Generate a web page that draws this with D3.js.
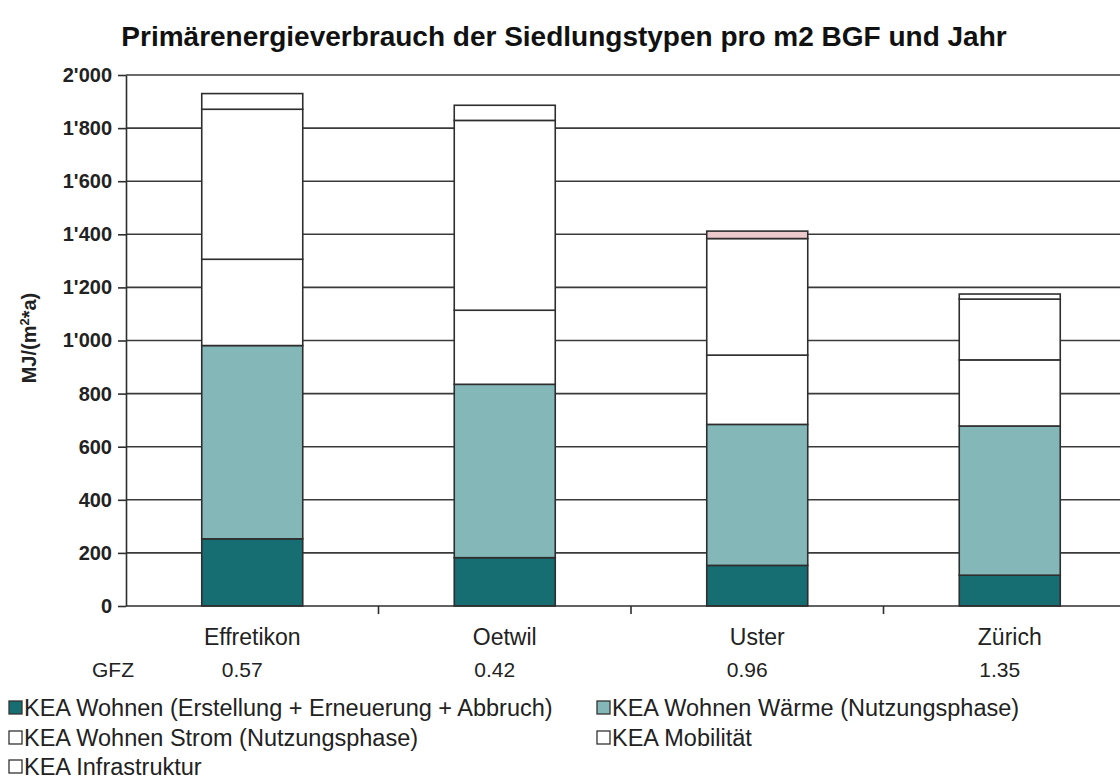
<!DOCTYPE html>
<html>
<head>
<meta charset="utf-8">
<script src="https://cdn.jsdelivr.net/npm/d3@7"></script>
<style>
  body { margin: 0; background: #fff; }
  svg { display: block; font-family: "Liberation Sans", Arial, sans-serif; }
</style>
</head>
<body>
<div id="chart"></div>
<script>
// data (MJ per m2 BGF and year)
const categories = ["Effretikon", "Oetwil", "Uster", "Zürich"];
const gfzValues = ["0.57", "0.42", "0.96", "1.35"];
const seriesNames = [
    "KEA Wohnen (Erstellung + Erneuerung + Abbruch)",
    "KEA Wohnen Wärme (Nutzungsphase)",
    "KEA Wohnen Strom (Nutzungsphase)",
    "KEA Mobilität",
    "KEA Infrastruktur"
];
const erstellung = [253, 182, 153, 116];
const waerme = [728, 653, 531, 562];
const strom = [325, 279, 261, 249];
const mobilitaet = [565, 715, 439, 229];
const infrastruktur = [59, 57, 28, 19];
const yTicks = [0, 200, 400, 600, 800, 1000, 1200, 1400, 1600, 1800, 2000];

const seriesColors = ["#166d72", "#84b7b8", "#ffffff", "#ffffff", "#ffffff"];
// the Uster infrastructure slice shows a pink tint in the original
const infraFillOverride = { "Uster": "#ecc9cd" };

// build rows for the stack
const keys = ["erstellung", "waerme", "strom", "mobilitaet", "infrastruktur"];
const rows = categories.map((c, i) => ({
    cat: c,
    erstellung: erstellung[i],
    waerme: waerme[i],
    strom: strom[i],
    mobilitaet: mobilitaet[i],
    infrastruktur: infrastruktur[i]
}));
const stacked = d3.stack().keys(keys)(rows);

const W = 1120, H = 780;
const plot = {left: 126, right: 1136, top: 75, bottom: 606};

const svg = d3.select("#chart").append("svg")
    .attr("width", W)
    .attr("height", H);

const x = d3.scaleBand()
    .domain(categories)
    .range([plot.left, plot.right]);

const y = d3.scaleLinear()
    .domain([0, 2000])
    .range([plot.bottom, plot.top]);

const swiss = d3.formatLocale({decimal: ".", thousands: "'", grouping: [3], currency: ["", ""]});
const fmt = swiss.format(",");

// title
svg.append("text")
    .attr("x", 564)
    .attr("y", 46)
    .attr("text-anchor", "middle")
    .attr("font-size", 28)
    .attr("font-weight", "bold")
    .attr("fill", "#111")
    .text("Primärenergieverbrauch der Siedlungstypen pro m2 BGF und Jahr");

// gridlines behind bars
svg.append("g")
    .selectAll("line")
    .data(yTicks.filter(d => d > 0))
    .join("line")
    .attr("x1", plot.left)
    .attr("x2", plot.right)
    .attr("y1", d => y(d))
    .attr("y2", d => y(d))
    .attr("stroke", "#3a3a3a")
    .attr("stroke-width", 1.6);

// bars
const barW = x.bandwidth() * 0.4;
svg.append("g")
    .selectAll("g")
    .data(stacked)
    .join("g")
    .each(function(layer, li) {
        d3.select(this).selectAll("rect")
            .data(layer)
            .join("rect")
            .attr("x", d => x(d.data.cat) + (x.bandwidth() - barW) / 2)
            .attr("y", d => y(d[1]))
            .attr("width", barW)
            .attr("height", d => y(d[0]) - y(d[1]))
            .attr("fill", d => (layer.key === "infrastruktur" && infraFillOverride[d.data.cat]) || seriesColors[li])
            .attr("stroke", "#2e2e2e")
            .attr("stroke-width", 1.6);
    });

// y axis
const yAxis = svg.append("g")
    .attr("transform", `translate(${plot.left},0)`)
    .call(d3.axisLeft(y).tickValues(yTicks).tickFormat(fmt).tickSize(8).tickSizeOuter(0).tickPadding(6));
yAxis.select(".domain").attr("stroke", "#2e2e2e").attr("stroke-width", 1.6);
yAxis.selectAll(".tick line").attr("stroke", "#2e2e2e").attr("stroke-width", 1.6);
yAxis.selectAll(".tick text")
    .attr("font-size", 20)
    .attr("font-weight", "bold")
    .attr("fill", "#222")
    .attr("font-family", "Liberation Sans, Arial, sans-serif");

// x axis line + boundary ticks
svg.append("line")
    .attr("x1", plot.left).attr("x2", plot.right)
    .attr("y1", y(0)).attr("y2", y(0))
    .attr("stroke", "#2e2e2e").attr("stroke-width", 1.6);
svg.append("g")
    .selectAll("line")
    .data(categories.slice(1))
    .join("line")
    .attr("x1", d => x(d)).attr("x2", d => x(d))
    .attr("y1", y(0)).attr("y2", y(0) + 8)
    .attr("stroke", "#2e2e2e").attr("stroke-width", 1.6);

// category labels
svg.append("g")
    .selectAll("text")
    .data(categories)
    .join("text")
    .attr("x", d => x(d) + x.bandwidth() / 2)
    .attr("y", 645)
    .attr("text-anchor", "middle")
    .attr("font-size", 23)
    .attr("fill", "#222")
    .text(d => d);

// GFZ row
svg.append("text")
    .attr("x", 92)
    .attr("y", 677)
    .attr("font-size", 21)
    .attr("fill", "#222")
    .text("GFZ");
svg.append("g")
    .selectAll("text")
    .data(categories)
    .join("text")
    .attr("x", (d, i) => x(d) + x.bandwidth() / 2 - 10)
    .attr("y", 677)
    .attr("text-anchor", "middle")
    .attr("font-size", 21)
    .attr("fill", "#222")
    .text((d, i) => gfzValues[i]);

// y axis title
svg.append("text")
    .attr("transform", "translate(36,338) rotate(-90)")
    .attr("text-anchor", "middle")
    .attr("font-size", 20)
    .attr("font-weight", "bold")
    .attr("fill", "#222")
    .call(t => {
        t.append("tspan").text("MJ/(m");
        t.append("tspan").attr("baseline-shift", "super").attr("font-size", 13).text("2");
        t.append("tspan").text("*a)");
    });

// legend
const legendPos = [[8, 716], [596, 716], [8, 746], [596, 746], [8, 775]];
const legend = svg.append("g")
    .selectAll("g")
    .data(seriesNames)
    .join("g")
    .attr("transform", (d, i) => `translate(${legendPos[i][0]},${legendPos[i][1]})`);
legend.append("rect")
    .attr("x", 1).attr("y", -15)
    .attr("width", 13).attr("height", 13)
    .attr("fill", (d, i) => seriesColors[i])
    .attr("stroke", "#333")
    .attr("stroke-width", 1.3);
legend.append("text")
    .attr("x", 16)
    .attr("y", 0)
    .attr("font-size", 23.5)
    .attr("fill", "#222")
    .text(d => d);
</script>
</body>
</html>
